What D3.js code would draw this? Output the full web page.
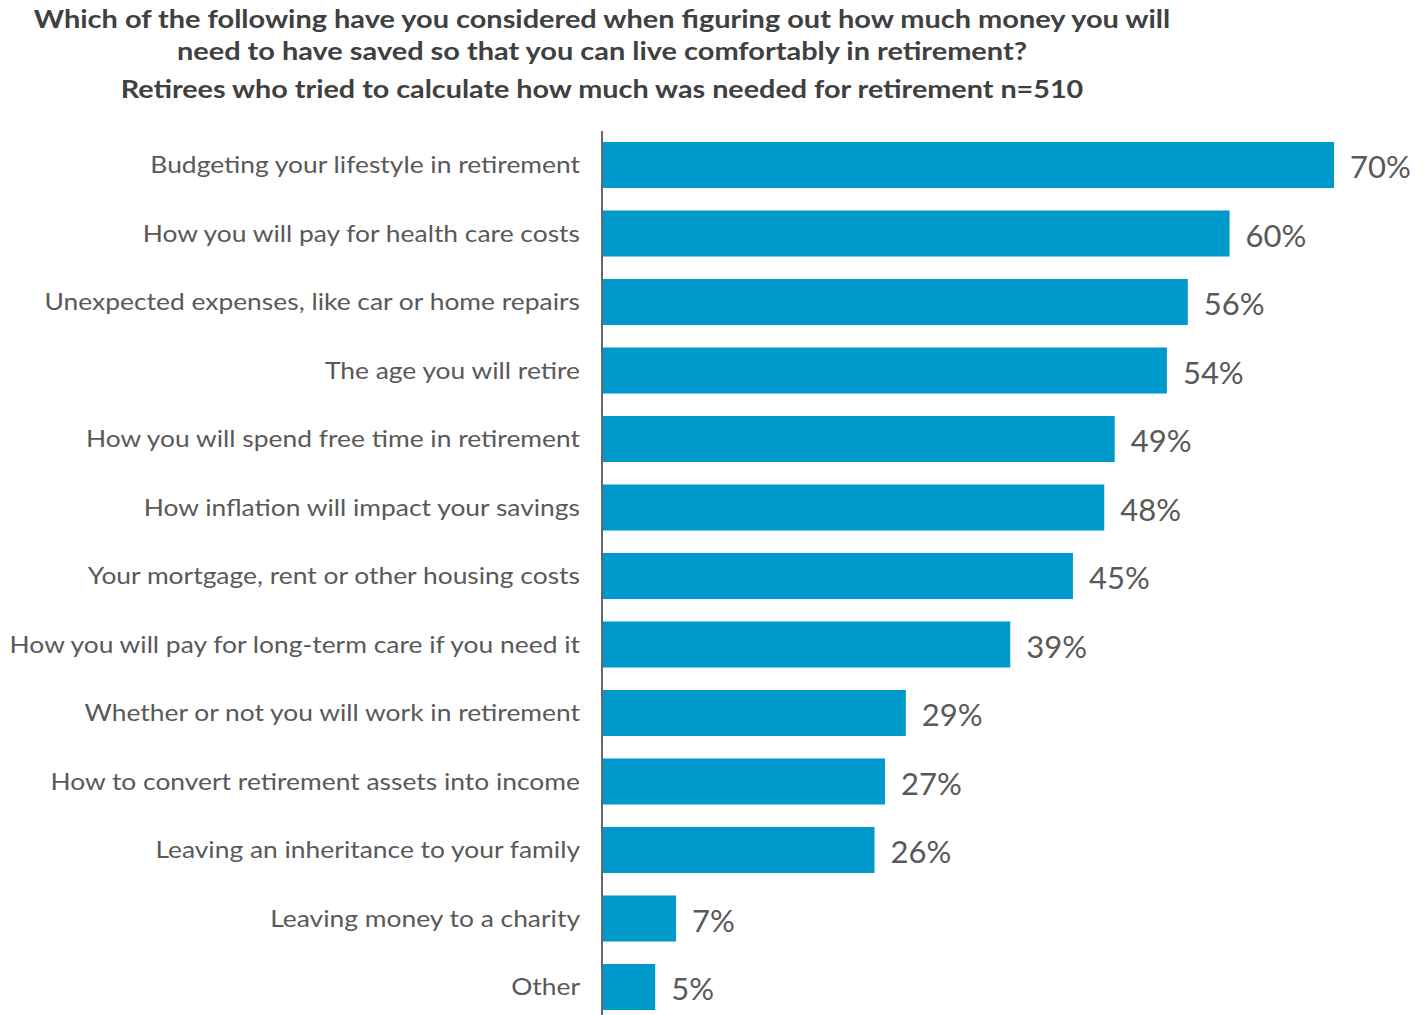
<!DOCTYPE html>
<html><head><meta charset="utf-8">
<script src="https://cdn.jsdelivr.net/npm/d3@7"></script>
<style>body{margin:0;background:#fff}svg{display:block}</style>
</head><body>
<script>
const titleLines = [
  "Which of the following have you considered when figuring out how much money you will",
  "need to have saved so that you can live comfortably in retirement?"
];
const subtitle = "Retirees who tried to calculate how much was needed for retirement n=510";
const categories = [
  "Budgeting your lifestyle in retirement",
  "How you will pay for health care costs",
  "Unexpected expenses, like car or home repairs",
  "The age you will retire",
  "How you will spend free time in retirement",
  "How inflation will impact your savings",
  "Your mortgage, rent or other housing costs",
  "How you will pay for long-term care if you need it",
  "Whether or not you will work in retirement",
  "How to convert retirement assets into income",
  "Leaving an inheritance to your family",
  "Leaving money to a charity",
  "Other"
];
const values = [70, 60, 56, 54, 49, 48, 45, 39, 29, 27, 26, 7, 5];

const W = 1425, H = 1015;
const svg = d3.select("body").append("svg").attr("width", W).attr("height", H);
const font = "Lato, 'Open Sans', sans-serif";

function widen(sel, f) {
  sel.each(function () {
    const len = this.getComputedTextLength();
    d3.select(this).attr("textLength", len * f).attr("lengthAdjust", "spacingAndGlyphs");
  });
}

const x = d3.scaleLinear().domain([0, 70]).range([603, 1334]);
const y = d3.scaleBand().domain(categories).range([130.75, 130.75 + 13 * 68.5])
  .paddingInner(0.328).paddingOuter(0.164);

const t1 = svg.selectAll("text.title").data(titleLines).join("text")
  .attr("class", "title")
  .attr("x", 602).attr("y", (d, i) => 28 + i * 32)
  .attr("text-anchor", "middle").attr("font-family", font).attr("font-weight", 700)
  .attr("font-size", 25).attr("fill", "#404040").text(d => d);
widen(t1, 1.157);
const t2 = svg.append("text").attr("x", 602).attr("y", 98)
  .attr("text-anchor", "middle").attr("font-family", font).attr("font-weight", 700)
  .attr("font-size", 25).attr("fill", "#404040").text(subtitle);
widen(t2, 1.15);

svg.selectAll("rect.bar").data(values).join("rect")
  .attr("class", "bar")
  .attr("x", x(0)).attr("y", (d, i) => y(categories[i]))
  .attr("width", d => x(d) - x(0)).attr("height", y.bandwidth())
  .attr("fill", "#0099CC");

const yAxis = svg.append("g").attr("transform", `translate(${x(0) - 1},0)`)
  .call(d3.axisLeft(y).tickSize(0).tickPadding(22));
yAxis.select(".domain").attr("stroke", "#666").attr("stroke-width", 2)
  .attr("d", `M0,131V${H}`);
const lbl = yAxis.selectAll("text").attr("font-family", font).attr("font-size", 24)
  .attr("fill", "#595959").attr("dy", "0.34em");
widen(lbl, 1.10);

svg.selectAll("text.val").data(values).join("text")
  .attr("class", "val")
  .attr("x", d => x(d) + 16).attr("y", (d, i) => y(categories[i]) + y.bandwidth() / 2)
  .attr("dy", "0.42em").attr("font-family", font).attr("font-size", 31)
  .attr("fill", "#595959").text(d => d + "%");
</script>
</body></html>
